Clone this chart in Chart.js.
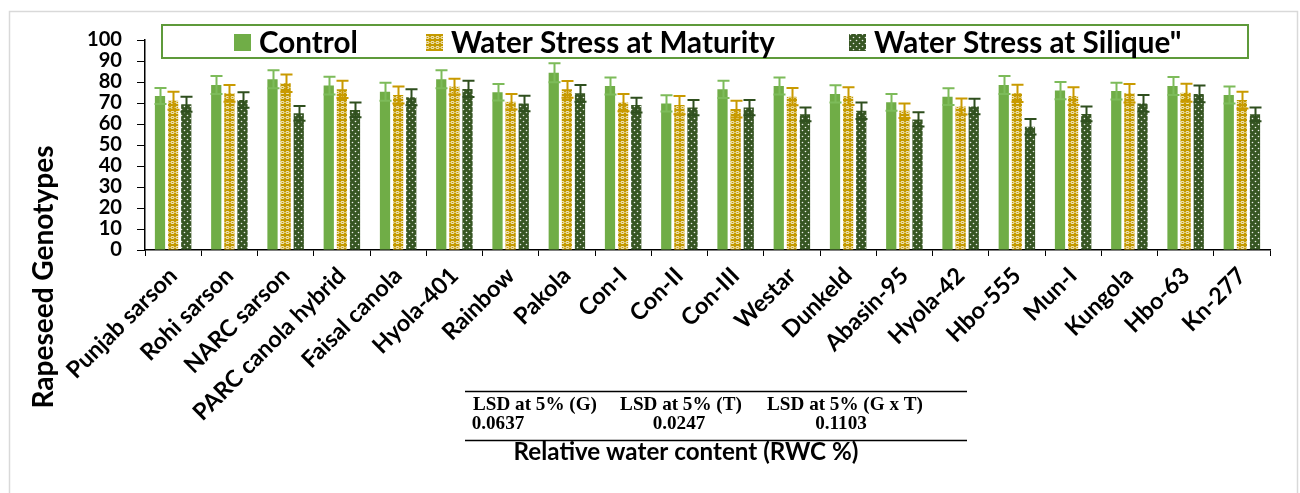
<!DOCTYPE html>
<html>
<head>
<meta charset="utf-8">
<script src="https://cdn.jsdelivr.net/npm/chart.js@4.4.0/dist/chart.umd.min.js"></script>
<style>
    html, body { margin: 0; padding: 0; background: #fff; }
    #wrap { width: 1300px; height: 493px; position: relative; }
</style>
</head>
<body>
<div id="wrap"><canvas id="rwc-chart" width="1300" height="493"></canvas></div>
<script>
// --- Données ---

const genotypes = ['Punjab sarson', 'Rohi sarson', 'NARC sarson', 'PARC canola hybrid', 'Faisal canola',
    'Hyola-401', 'Rainbow', 'Pakola', 'Con-I', 'Con-II', 'Con-III', 'Westar', 'Dunkeld', 'Abasin-95',
    'Hyola-42', 'Hbo-555', 'Mun-I', 'Kungola', 'Hbo-63', 'Kn-277'];

const seriesNames = ['Control', 'Water Stress at Maturity', 'Water Stress at Silique"'];

const controlMean  = [73.3, 78.6, 81.3, 78.3, 75.4, 81.3, 75.1, 84.4, 78.1, 69.8, 76.5, 78.1, 74.3, 70.3, 73.0, 78.6, 75.9, 75.7, 78.1, 73.8];
const controlErr   = [3.8, 4.3, 4.3, 4.2, 4.3, 4.3, 3.9, 4.5, 4.1, 3.9, 4.1, 4.1, 4.1, 4.0, 4.0, 4.3, 4.1, 4.0, 4.3, 4.0];

const maturityMean = [71.1, 74.6, 79.4, 76.5, 73.8, 77.8, 70.6, 76.5, 70.2, 69.0, 67.1, 73.0, 73.3, 66.3, 68.3, 74.6, 73.3, 74.6, 74.9, 71.4];
const maturityErr  = [4.3, 4.0, 4.2, 4.1, 4.0, 3.8, 3.7, 4.0, 4.1, 4.3, 4.0, 4.1, 4.2, 3.5, 3.8, 4.1, 4.2, 4.4, 4.3, 4.0];

const siliqueMean  = [69.4, 71.4, 65.1, 66.7, 72.7, 76.7, 69.8, 74.6, 69.0, 67.8, 67.8, 64.6, 66.3, 62.2, 68.3, 58.7, 64.8, 69.8, 74.3, 64.6];
const siliqueErr   = [3.6, 3.7, 3.5, 3.5, 3.8, 3.9, 3.7, 4.0, 3.5, 3.6, 3.6, 3.3, 3.9, 3.4, 3.7, 3.7, 3.5, 4.0, 4.0, 3.3];

const yMin = 0;
const yMax = 100;
const yStep = 10;

const lsdLabels = ['LSD at 5% (G)', 'LSD at 5% (T)', 'LSD at 5% (G x T)'];
const lsdValues = ['0.0637', '0.0247', '0.1103'];

const yTitle = 'Rapeseed Genotypes';
const xTitle = 'Relative water content (RWC %)';

// --- Styles ---

const SANS  = 'Lato, "Open Sans", sans-serif';
const SERIF = '"Liberation Serif", "DejaVu Serif", serif';

const GREEN = '#70AD47';
const GOLD  = '#C49A00';
const DARK  = '#375623';

const canvas = document.getElementById('rwc-chart');
const ctx = canvas.getContext('2d');

// taille de police pour qu'un texte fasse la largeur voulue
function fitSize(text, weight, family, width) {
    ctx.font = `${weight} 100px ${family}`;
    return 100 * width / ctx.measureText(text).width;
}

const yTickSize  = fitSize('100', 'bold', SANS, 35);
const xTickSize  = fitSize('Punjab sarson', 'bold', SANS, 145);
const legendSize = fitSize('Water Stress at Maturity', 'bold', SANS, 324);
const yTitleSize = fitSize(yTitle, 'bold', SANS, 263);
const xTitleSize = fitSize(xTitle, 'bold', SANS, 345);
const tableSize  = fitSize(lsdLabels[0], 'bold', SERIF, 124);

function makePattern(kind) {
    const tile = document.createElement('canvas');
    const g = tile.getContext('2d');
    if (kind === 'maturity') {
        tile.width = 5; tile.height = 5;
        g.fillStyle = GOLD;
        g.fillRect(0, 0, 5, 5);
        g.strokeStyle = 'rgba(255,255,255,0.95)';
        g.lineWidth = 1;
        g.beginPath();
        g.ellipse(2.5, 2.5, 1.6, 1.0, 0, 0, Math.PI * 2);
        g.stroke();
    } else {
        tile.width = 6; tile.height = 6;
        g.fillStyle = DARK;
        g.fillRect(0, 0, 6, 6);
        g.fillStyle = 'rgba(255,255,255,0.9)';
        g.beginPath(); g.arc(1.5, 1.5, 0.8, 0, Math.PI * 2); g.fill();
        g.beginPath(); g.arc(4.5, 4.5, 0.8, 0, Math.PI * 2); g.fill();
    }
    return ctx.createPattern(tile, 'repeat');
}

const maturityFill = makePattern('maturity');
const siliqueFill  = makePattern('silique');

// --- Plugins ---

const errorBars = {
    id: 'errorBars',
    afterDatasetsDraw(chart) {
        const c = chart.ctx;
        const yScale = chart.scales.y;
        chart.data.datasets.forEach((ds, i) => {
            const meta = chart.getDatasetMeta(i);
            c.save();
            c.strokeStyle = ds.errColor;
            c.lineWidth = 2;
            meta.data.forEach((bar, j) => {
                const v = ds.data[j];
                const e = ds.errors[j];
                const x = Math.round(bar.x) + 0.5;
                const top = yScale.getPixelForValue(v + e);
                const bot = yScale.getPixelForValue(v - e);
                c.beginPath();
                c.moveTo(x, bot); c.lineTo(x, top);
                c.moveTo(x - 6, top); c.lineTo(x + 6, top);
                c.moveTo(x - 6, bot); c.lineTo(x + 6, bot);
                c.stroke();
            });
            c.restore();
        });
    }
};

const decorations = {
    id: 'decorations',
    afterDraw(chart) {
        const c = chart.ctx;
        c.save();

        // cadre extérieur
        c.strokeStyle = '#d9d9d9';
        c.lineWidth = 1.5;
        c.strokeRect(9.5, 11.5, 1288, 500);

        // légende
        c.fillStyle = '#fff';
        c.fillRect(162, 25, 1086, 33);
        c.strokeStyle = '#5E9A3A';
        c.lineWidth = 2;
        c.strokeRect(162, 25, 1086, 33);

        const swatchX = [234, 426, 849];
        const fills = [GREEN, maturityFill, siliqueFill];
        c.font = `bold ${legendSize}px ${SANS}`;
        c.textBaseline = 'middle';
        c.textAlign = 'left';
        seriesNames.forEach((name, i) => {
            c.fillStyle = fills[i];
            c.fillRect(swatchX[i], 34, 17, 17);
            c.fillStyle = '#000';
            c.fillText(name, swatchX[i] + 25, 43);
        });

        // titre de l'axe Y
        c.save();
        c.translate(44, 277);
        c.rotate(-Math.PI / 2);
        c.font = `bold ${yTitleSize}px ${SANS}`;
        c.textAlign = 'center';
        c.fillText(yTitle, 0, 0);
        c.restore();

        // tableau LSD
        c.strokeStyle = '#000';
        c.lineWidth = 1.3;
        c.beginPath();
        c.moveTo(465, 391.5); c.lineTo(967, 391.5);
        c.moveTo(465, 440.5); c.lineTo(967, 440.5);
        c.stroke();

        c.font = `bold ${tableSize}px ${SERIF}`;
        c.textAlign = 'center';
        const headX = [535, 681, 845];
        const valX = [498, 679, 841];
        lsdLabels.forEach((t, i) => c.fillText(t, headX[i], 405));
        lsdValues.forEach((t, i) => c.fillText(t, valX[i], 424));

        // titre de l'axe X
        c.font = `bold ${xTitleSize}px ${SANS}`;
        c.fillText(xTitle, 686, 452);

        c.restore();
    }
};

// --- Graphique ---

new Chart(canvas, {
    type: 'bar',
    data: {
        labels: genotypes,
        datasets: [
            { label: seriesNames[0], data: controlMean,  errors: controlErr,  backgroundColor: GREEN,        errColor: '#7DBB5A' },
            { label: seriesNames[1], data: maturityMean, errors: maturityErr, backgroundColor: maturityFill, errColor: '#C99A00' },
            { label: seriesNames[2], data: siliqueMean,  errors: siliqueErr,  backgroundColor: siliqueFill,  errColor: '#2F4F1E' }
        ]
    },
    options: {
        responsive: false,
        animation: false,
        devicePixelRatio: 1,
        categoryPercentage: 0.7,
        barPercentage: 0.78,
        layout: { padding: { top: 40, right: 30, left: 0, bottom: 0 } },
        plugins: {
            legend: { display: false },
            tooltip: { enabled: false }
        },
        scales: {
            x: {
                grid: { drawOnChartArea: false, color: '#000', tickLength: 6, offset: true },
                border: { color: '#000', width: 1.5 },
                ticks: {
                    color: '#000',
                    autoSkip: false,
                    maxRotation: 45,
                    minRotation: 45,
                    padding: 6,
                    font: { family: SANS, weight: 'bold', size: xTickSize }
                },
                afterFit: scale => { scale.height = 243; }
            },
            y: {
                min: yMin,
                max: yMax,
                grid: { drawOnChartArea: false, color: '#000', tickLength: 8 },
                border: { color: '#000', width: 1.5 },
                ticks: {
                    stepSize: yStep,
                    autoSkip: false,
                    color: '#000',
                    padding: 15,
                    font: { family: SANS, weight: 'bold', size: yTickSize, lineHeight: 1 }
                },
                afterFit: scale => { scale.width = 145; }
            }
        }
    },
    plugins: [errorBars, decorations]
});
</script>
</body>
</html>
